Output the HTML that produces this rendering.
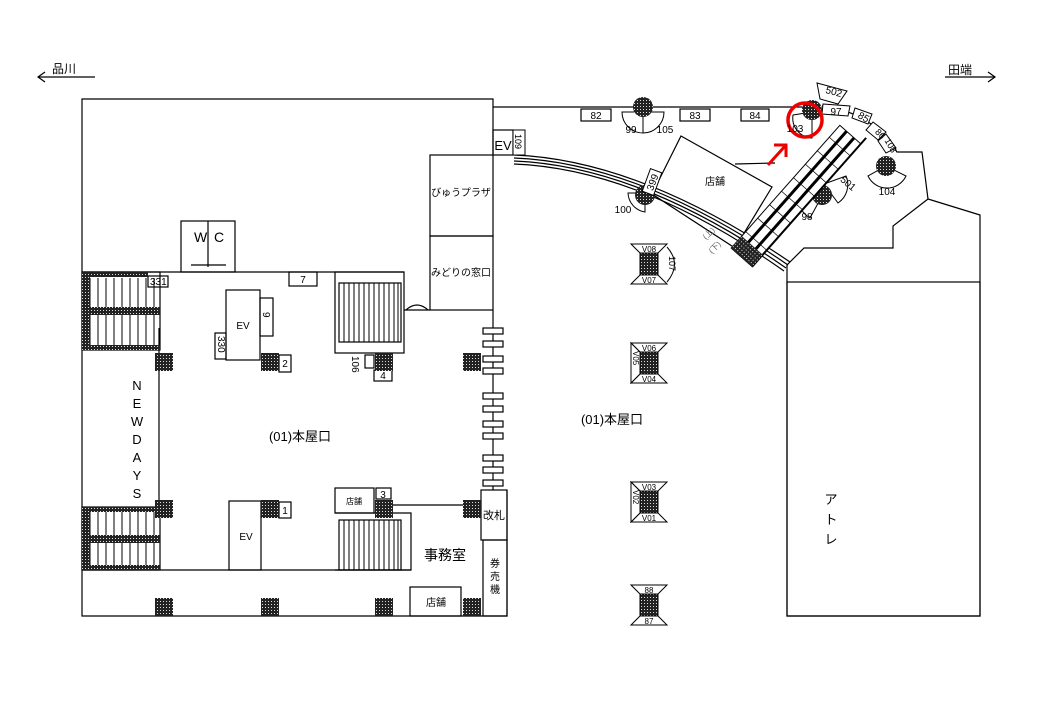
<!DOCTYPE html>
<html><head><meta charset="utf-8"><style>
html,body{margin:0;padding:0;background:#fff;}
svg{display:block;font-family:"Liberation Sans","Noto Sans CJK JP",sans-serif;}
</style></head><body>
<svg width="1040" height="720" viewBox="0 0 1040 720" xmlns="http://www.w3.org/2000/svg">
<defs>
<pattern id="dots" width="3" height="3" patternUnits="userSpaceOnUse">
<rect width="3" height="3" fill="#222"/><rect x="1" y="1" width="1" height="1" fill="#ddd"/>
</pattern>
<g id="vend">
<polygon points="-18,-20 18,-20 9,-11 -9,-11" fill="#fff" stroke="#000"/>
<polygon points="-18,20 18,20 9,11 -9,11" fill="#fff" stroke="#000"/>
<rect x="-9" y="-11" width="18" height="22" fill="url(#dots)" stroke="#000"/>
</g>
</defs>
<g fill="none" stroke="#000" stroke-width="1.2">
<!-- direction arrows -->
<line x1="38" y1="77" x2="95" y2="77"/><polyline points="45,72 38,77 45,82"/>
<line x1="945" y1="77" x2="995" y2="77"/><polyline points="988,72 995,77 988,82"/>
<!-- main left building -->
<polyline points="493,155 493,99 82,99 82,616 507,616 507,490"/>
<line x1="82" y1="272" x2="404" y2="272"/>
<line x1="82" y1="570" x2="411" y2="570"/>
<rect x="181" y="221" width="54" height="51"/>
<line x1="208" y1="221" x2="208" y2="267"/><line x1="191" y1="265" x2="226" y2="265"/>
<!-- right column -->
<rect x="430" y="155" width="63" height="81"/>
<rect x="430" y="236" width="63" height="74"/>
<line x1="404" y1="310" x2="430" y2="310"/>
<path d="M406,310 Q417,300 428,310"/>
<rect x="493" y="130" width="20" height="25"/>
<line x1="493" y1="310" x2="493" y2="490"/>
<rect x="481" y="490" width="26" height="50"/>
<rect x="483" y="540" width="24" height="76"/>
<!-- top stairs -->
<rect x="335" y="272" width="69" height="81"/>
<rect x="339" y="283" width="62" height="59"/>
<!-- bottom stairs -->
<polyline points="335,570 411,570 411,513 335,513"/>
<rect x="339" y="520" width="62" height="50"/>
<rect x="335" y="488" width="39" height="25"/>
<rect x="410" y="587" width="51" height="29"/>
<line x1="390" y1="505" x2="481" y2="505"/>
<!-- left stairs -->
<rect x="82" y="272" width="78" height="78"/>
<rect x="82" y="507" width="78" height="63"/>
<line x1="159" y1="328" x2="159" y2="500"/>
<!-- EVs -->
<rect x="226" y="290" width="34" height="70"/>
<rect x="260" y="298" width="13" height="38"/>
<rect x="215" y="333" width="11" height="26"/>
<rect x="229" y="501" width="32" height="69"/>
<rect x="289" y="272" width="28" height="14"/>
<rect x="148" y="276" width="20" height="11"/>
<rect x="365" y="355" width="9" height="13"/>
<rect x="374" y="370" width="18" height="11"/>
<rect x="279" y="355" width="12" height="17"/>
<rect x="279" y="502" width="12" height="16"/>
<rect x="376" y="488" width="15" height="11"/>
<!-- right area top wall -->
<line x1="493" y1="107" x2="803" y2="107"/>
<path d="M822,106 Q872,112 897,152 L922,152 L928,199 L980,215 L980,616 L787,616 L787,265 L804,248 L893,248 L893,226 L928,199"/>
<rect x="787" y="282" width="193" height="334"/>
<rect x="581" y="109" width="30" height="12"/>
<rect x="680" y="109" width="30" height="12"/>
<rect x="741" y="109" width="28" height="12"/>
<!-- curved rails -->
<path d="M514,155 Q640,160 790,262"/>
<path d="M514,158 Q640,163 788,265"/>
<path d="M514,161 Q640,166 786,268"/>
<path d="M514,164 Q640,169 784,271"/>
<!-- shop -->
<polygon points="681,136 772,187 735,248 652,194"/>
<line x1="735" y1="164" x2="775" y2="163"/>
</g>
<!-- gate boxes -->
<g fill="#fff" stroke="#000" stroke-width="1.2">
<rect x="483" y="328" width="20" height="6"/><rect x="483" y="341" width="20" height="6"/>
<rect x="483" y="356" width="20" height="6"/><rect x="483" y="368" width="20" height="6"/>
<rect x="483" y="393" width="20" height="6"/><rect x="483" y="406" width="20" height="6"/>
<rect x="483" y="421" width="20" height="6"/><rect x="483" y="433" width="20" height="6"/>
<rect x="483" y="455" width="20" height="6"/><rect x="483" y="467" width="20" height="6"/>
<rect x="483" y="480" width="20" height="6"/>
</g>
<!-- stair treads -->
<g stroke="#000" stroke-width="1">
<path d="M344,283V342M349,283V342M354,283V342M359,283V342M364,283V342M369,283V342M374,283V342M379,283V342M384,283V342M389,283V342M394,283V342M398,283V342"/>
<path d="M344,520V570M349,520V570M354,520V570M359,520V570M364,520V570M369,520V570M374,520V570M379,520V570M384,520V570M389,520V570M394,520V570M398,520V570"/>
<path d="M90,278V345M98,278V345M106,278V345M114,278V345M122,278V345M130,278V345M138,278V345M146,278V345M154,278V345"/>
<path d="M90,510V568M98,510V568M106,510V568M114,510V568M122,510V568M130,510V568M138,510V568M146,510V568M154,510V568"/>
</g>
<!-- dotted bands -->
<g fill="url(#dots)">
<rect x="82" y="272" width="8" height="78"/><rect x="82" y="272" width="66" height="5"/>
<rect x="82" y="307" width="78" height="8"/><rect x="82" y="345" width="78" height="5"/>
<rect x="82" y="507" width="8" height="63"/><rect x="82" y="507" width="78" height="5"/>
<rect x="82" y="535" width="78" height="8"/><rect x="82" y="565" width="78" height="5"/>
<!-- pillars -->
<rect x="155" y="353" width="18" height="18"/><rect x="261" y="353" width="18" height="18"/>
<rect x="375" y="353" width="18" height="18"/><rect x="463" y="353" width="18" height="18"/>
<rect x="155" y="500" width="18" height="18"/><rect x="261" y="500" width="18" height="18"/>
<rect x="375" y="500" width="18" height="18"/><rect x="463" y="500" width="18" height="18"/>
<rect x="155" y="598" width="18" height="18"/><rect x="261" y="598" width="18" height="18"/>
<rect x="375" y="598" width="18" height="18"/><rect x="463" y="598" width="18" height="18"/>
</g>
<!-- round pillars with fans -->
<g fill="#fff" stroke="#000" stroke-width="1">
<path d="M622,112 A21,21 0 0 0 664,112 Z"/><line x1="643" y1="112" x2="643" y2="133"/>
<path d="M793,115 L812,112 L812,138 A20,20 0 0 1 793,115 Z"/>
<path d="M817,83 L847,91 L838,104 L820,99 Z"/>
<path d="M628,193 L645,193 L645,212 A20,20 0 0 1 628,193 Z"/>
<path d="M868,176 A21,21 0 0 0 906,176 L886,166 Z"/>
<path d="M800,186 L822,196 L810,218 A25,25 0 0 1 800,186 Z"/>
<path d="M824,184 L846,176 A22,22 0 0 1 838,203 Z"/>
</g>
<g fill="url(#dots)">
<circle cx="643" cy="107" r="10"/><circle cx="812" cy="110" r="10"/>
<circle cx="645" cy="195" r="10"/><circle cx="822" cy="195" r="10"/>
<circle cx="886" cy="166" r="10"/>
</g>
<!-- arc label boxes -->
<g fill="#fff" stroke="#000" stroke-width="1">
<polygon points="823,104 850,106 848,116 822,114"/>
<polygon points="855,108 872,114 868,124 852,118"/>
<polygon points="873,122 886,132 878,140 866,130"/>
<polygon points="886,134 896,148 886,153 878,141"/>
<rect x="513" y="130" width="12" height="25"/>
</g>
<!-- 399 label -->
<g transform="translate(652,182) rotate(-70)"><rect x="-12" y="-6" width="24" height="12" fill="#fff" stroke="#000"/><text x="0" y="4" font-size="10" text-anchor="middle">399</text></g>
<!-- escalator -->
<g transform="translate(796,196) rotate(-48.5)">
<rect x="-82" y="-14" width="164" height="28" fill="#fff" stroke="#000"/>
<line x1="-82" y1="-5" x2="82" y2="-5" stroke="#000" stroke-width="3"/>
<line x1="-82" y1="5" x2="82" y2="5" stroke="#000" stroke-width="3"/>
<line x1="-82" y1="14" x2="90" y2="14" stroke="#000" stroke-width="2"/>
<path d="M-60,-14V14M-42,-14V14M-24,-14V14M-6,-14V14M12,-14V14M30,-14V14M48,-14V14M66,-14V14" stroke="#000" stroke-width="0.7"/>
<rect x="-82" y="-14" width="16" height="28" fill="url(#dots)"/>
</g>
<!-- vending pillars -->
<use href="#vend" x="649" y="264"/>
<use href="#vend" x="649" y="363"/>
<use href="#vend" x="649" y="502"/>
<use href="#vend" x="649" y="605"/>
<path d="M667,247 Q682,264 667,282" fill="none" stroke="#000"/>
<polygon points="631,343 640,352 640,374 631,383" fill="#fff" stroke="#000"/>
<polygon points="631,482 640,491 640,513 631,522" fill="#fff" stroke="#000"/>
<!-- red marker -->
<circle cx="805" cy="120" r="17" fill="none" stroke="#e00" stroke-width="3.5"/>
<g stroke="#e00" stroke-width="3" fill="none"><line x1="768" y1="165" x2="786" y2="145"/><polyline points="774,145 786,145 786,157"/></g>
<!-- text -->
<g fill="#000">
<text x="52" y="73" font-size="12">品川</text>
<text x="948" y="74" font-size="12">田端</text>
<text x="194" y="242" font-size="14">W</text><text x="214" y="242" font-size="14">C</text>
<text x="150" y="285" font-size="10">331</text>
<text x="303" y="283" font-size="10" text-anchor="middle">7</text>
<text x="243" y="329" font-size="10" text-anchor="middle">EV</text>
<text x="246" y="540" font-size="10" text-anchor="middle">EV</text>
<text transform="translate(263,312) rotate(90)" font-size="10">9</text>
<text transform="translate(218,336) rotate(90)" font-size="10">330</text>
<text x="285" y="367" font-size="10" text-anchor="middle">2</text>
<text x="285" y="514" font-size="10" text-anchor="middle">1</text>
<text x="383" y="379" font-size="10" text-anchor="middle">4</text>
<text x="383" y="498" font-size="10" text-anchor="middle">3</text>
<text transform="translate(352,356) rotate(90)" font-size="10">106</text>
<text x="354" y="504" font-size="8" text-anchor="middle">店舗</text>
<text x="436" y="606" font-size="10" text-anchor="middle">店舗</text>
<text x="461" y="196" font-size="10" text-anchor="middle">びゅうプラザ</text>
<text x="461" y="276" font-size="10" text-anchor="middle">みどりの窓口</text>
<text x="503" y="150" font-size="13" text-anchor="middle">EV</text>
<text transform="translate(515,134) rotate(90)" font-size="9">109</text>
<text x="494" y="519" font-size="11" text-anchor="middle">改札</text>
<text x="495" y="567" font-size="10" text-anchor="middle">券</text>
<text x="495" y="580" font-size="10" text-anchor="middle">売</text>
<text x="495" y="593" font-size="10" text-anchor="middle">機</text>
<text x="445" y="560" font-size="14" text-anchor="middle">事務室</text>
<text x="300" y="441" font-size="13" text-anchor="middle">(01)本屋口</text>
<text x="612" y="424" font-size="13" text-anchor="middle">(01)本屋口</text>
<g font-size="13" text-anchor="middle"><text x="137" y="390">N</text><text x="137" y="408">E</text><text x="137" y="426">W</text><text x="137" y="444">D</text><text x="137" y="462">A</text><text x="137" y="480">Y</text><text x="137" y="498">S</text></g>
<text x="596" y="119" font-size="10" text-anchor="middle">82</text>
<text x="695" y="119" font-size="10" text-anchor="middle">83</text>
<text x="755" y="119" font-size="10" text-anchor="middle">84</text>
<text x="631" y="133" font-size="10" text-anchor="middle">99</text>
<text x="665" y="133" font-size="10" text-anchor="middle">105</text>
<text x="795" y="132" font-size="10" text-anchor="middle">103</text>
<text transform="translate(833,95) rotate(15)" font-size="10" text-anchor="middle">502</text>
<text x="836" y="115" font-size="10" text-anchor="middle">97</text>
<text transform="translate(862,120) rotate(30)" font-size="10" text-anchor="middle">85</text>
<text transform="translate(878,136) rotate(45)" font-size="9" text-anchor="middle">86</text>
<text transform="translate(888,147) rotate(60)" font-size="9" text-anchor="middle">108</text>
<text x="623" y="213" font-size="10" text-anchor="middle">100</text>
<text x="807" y="220" font-size="10" text-anchor="middle">98</text>
<text transform="translate(846,186) rotate(40)" font-size="10" text-anchor="middle">501</text>
<text x="887" y="195" font-size="10" text-anchor="middle">104</text>
<text x="715" y="185" font-size="10" text-anchor="middle">店舗</text>
<text transform="translate(706,240) rotate(-45)" font-size="8" fill="#666">(上)</text>
<text transform="translate(712,254) rotate(-45)" font-size="8" fill="#666">(下)</text>
<g font-size="8" text-anchor="middle">
<text x="649" y="252">V08</text><text x="649" y="283">V07</text>
<text x="649" y="351">V06</text><text x="649" y="382">V04</text>
<text x="649" y="490">V03</text><text x="649" y="521">V01</text>
<text x="649" y="593">88</text><text x="649" y="624">87</text>
</g>
<text transform="translate(669,256) rotate(90)" font-size="9">107</text>
<text transform="translate(633,351) rotate(90)" font-size="8">V05</text>
<text transform="translate(633,490) rotate(90)" font-size="8">V02</text>
<g font-size="13" text-anchor="middle"><text x="831" y="504">ア</text><text x="831" y="524">ト</text><text x="831" y="544">レ</text></g>
</g>
</svg>
</body></html>
